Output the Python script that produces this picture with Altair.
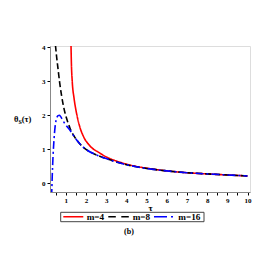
import altair as alt
import pandas as pd

# m=4 (red, solid)
x4 = [1.26, 1.28, 1.32, 1.41, 1.52, 1.7, 1.9, 2.2, 2.69, 3.0, 3.5, 4.0, 4.5, 5.0, 6.0, 7.0, 8.0, 9.0, 10.0]
y4 = [4.05, 3.5, 3.0, 2.5, 2.1, 1.65, 1.35, 1.1, 0.89, 0.78, 0.66, 0.57, 0.5, 0.45, 0.37, 0.315, 0.28, 0.25, 0.22]
# m=8 (black, dashed)
x8 = [0.49, 0.55, 0.6, 0.7, 0.8, 0.97, 1.1, 1.21, 1.4, 1.6, 1.8, 2.0, 2.5, 3.0, 3.5, 4.0, 4.5, 5.0, 6.0, 7.0, 8.0, 9.0, 10.0]
y8 = [4.05, 3.7, 3.45, 2.95, 2.55, 2.05, 1.8, 1.62, 1.4, 1.23, 1.1, 1.0, 0.84, 0.73, 0.63, 0.55, 0.49, 0.44, 0.37, 0.315, 0.28, 0.25, 0.22]
# m=16 (blue, dash-dot)
x16 = [0.3, 0.33, 0.37, 0.42, 0.47, 0.52, 0.58, 0.63, 0.68, 0.75, 0.85, 1.0, 1.21, 1.4, 1.6, 1.8, 2.0, 2.5, 3.0, 3.5, 4.0, 4.5, 5.0, 6.0, 7.0, 8.0, 9.0, 10.0]
y16 = [-0.4, 0.2, 0.8, 1.3, 1.65, 1.85, 1.96, 1.99, 2.0, 1.96, 1.85, 1.72, 1.56, 1.39, 1.23, 1.1, 1.0, 0.84, 0.73, 0.63, 0.55, 0.49, 0.44, 0.37, 0.315, 0.28, 0.25, 0.22]

series = ["m=4", "m=8", "m=16"]
colors = ["#ff0000", "#000000", "#0000ff"]
dashes = [[1, 0], [6, 3], [8, 3, 2, 3]]
legend_dashes = [[1, 0], [7.5, 5.5], [13, 4, 2, 4]]

rows = []
for name, xs, ys in zip(series, [x4, x8, x16], [y4, y8, y16]):
    for i, (a, b) in enumerate(zip(xs, ys)):
        rows.append({"tau": a, "theta": b, "m": name, "order": i})
df = pd.DataFrame(rows)

FONT = "Liberation Serif"

lines = alt.Chart(df).mark_line(clip=True, strokeWidth=1.6, interpolate="monotone").encode(
    x=alt.X("tau:Q", scale=alt.Scale(domain=[0.22, 10.12], nice=False, zero=False),
            axis=alt.Axis(values=[i * 0.5 for i in range(1, 21)],
                          labelExpr="datum.value % 1 == 0 ? format(datum.value, 'd') : ''",
                          title="τ", titleFont=FONT, titleFontWeight="bold", titleFontSize=9,
                          titlePadding=0, grid=False, tickSize=3, labelFontSize=7,
                          labelFont=FONT, labelFontWeight="bold", labelPadding=1,
                          domainColor="#888888", tickColor="#000000")),
    y=alt.Y("theta:Q", scale=alt.Scale(domain=[-0.25, 4.03], nice=False, zero=False),
            axis=alt.Axis(values=[0, 1, 2, 3, 4], title=None, grid=False, tickSize=3,
                          labelFontSize=7, labelFont=FONT, labelFontWeight="bold",
                          labelPadding=2, domainColor="#888888", tickColor="#000000")),
    color=alt.Color("m:N", scale=alt.Scale(domain=series, range=colors), legend=None),
    strokeDash=alt.StrokeDash("m:N", scale=alt.Scale(domain=series, range=dashes), legend=None),
    order="order:O",
)

# y-axis label pieces
ylab_data = pd.DataFrame({"t": ["θ", "S", "(τ)"], "px": [-36, -31.5, -28.3], "py": [73, 75.5, 73],
                          "fs": [8.5, 6, 8.5]})
ylab = alt.Chart(ylab_data).mark_text(font=FONT, fontWeight="bold", align="left", baseline="middle").encode(
    text="t:N", x=alt.X("px:Q", scale=None), y=alt.Y("py:Q", scale=None),
    size=alt.Size("fs:Q", scale=None, legend=None))

# manual legend (line samples + labels inside a box)
leg_x0 = [13.3, 58.3, 104.0]
leg_x1 = [33.3, 79.0, 123.3]
leg_tx = [36.7, 82.7, 128.3]
legend_layers = [
    alt.Chart(pd.DataFrame({"a": [0]})).mark_rect(fill="white", stroke="#444444", strokeWidth=1).encode(
        x=alt.value(10.7), x2=alt.value(154), y=alt.value(166.3), y2=alt.value(175.7))
]
for name, c, d, a, b, t in zip(series, colors, legend_dashes, leg_x0, leg_x1, leg_tx):
    legend_layers.append(
        alt.Chart(pd.DataFrame({"a": [0]})).mark_rule(color=c, strokeDash=d, strokeWidth=1.6).encode(
            x=alt.value(a), x2=alt.value(b), y=alt.value(170.7)))
    legend_layers.append(
        alt.Chart(pd.DataFrame({"t": [name]})).mark_text(
            font=FONT, fontWeight="bold", fontSize=9.2, align="left", baseline="middle").encode(
            text="t:N", x=alt.value(t), y=alt.value(171)))

blabel = alt.Chart(pd.DataFrame({"t": ["(b)"]})).mark_text(
    font=FONT, fontWeight="bold", fontSize=8).encode(
    text="t:N", x=alt.value(79), y=alt.value(185.7))

chart = alt.layer(lines, ylab, *legend_layers, blabel).properties(
    width=200, height=146,
    autosize=alt.AutoSizeParams(type="none"),
    padding={"left": 42, "top": 38, "right": 15, "bottom": 60},
).configure_view(stroke="#888888", strokeWidth=1).configure(background="white")

chart.save("out.html", embed_options={"renderer": "svg", "actions": False})
